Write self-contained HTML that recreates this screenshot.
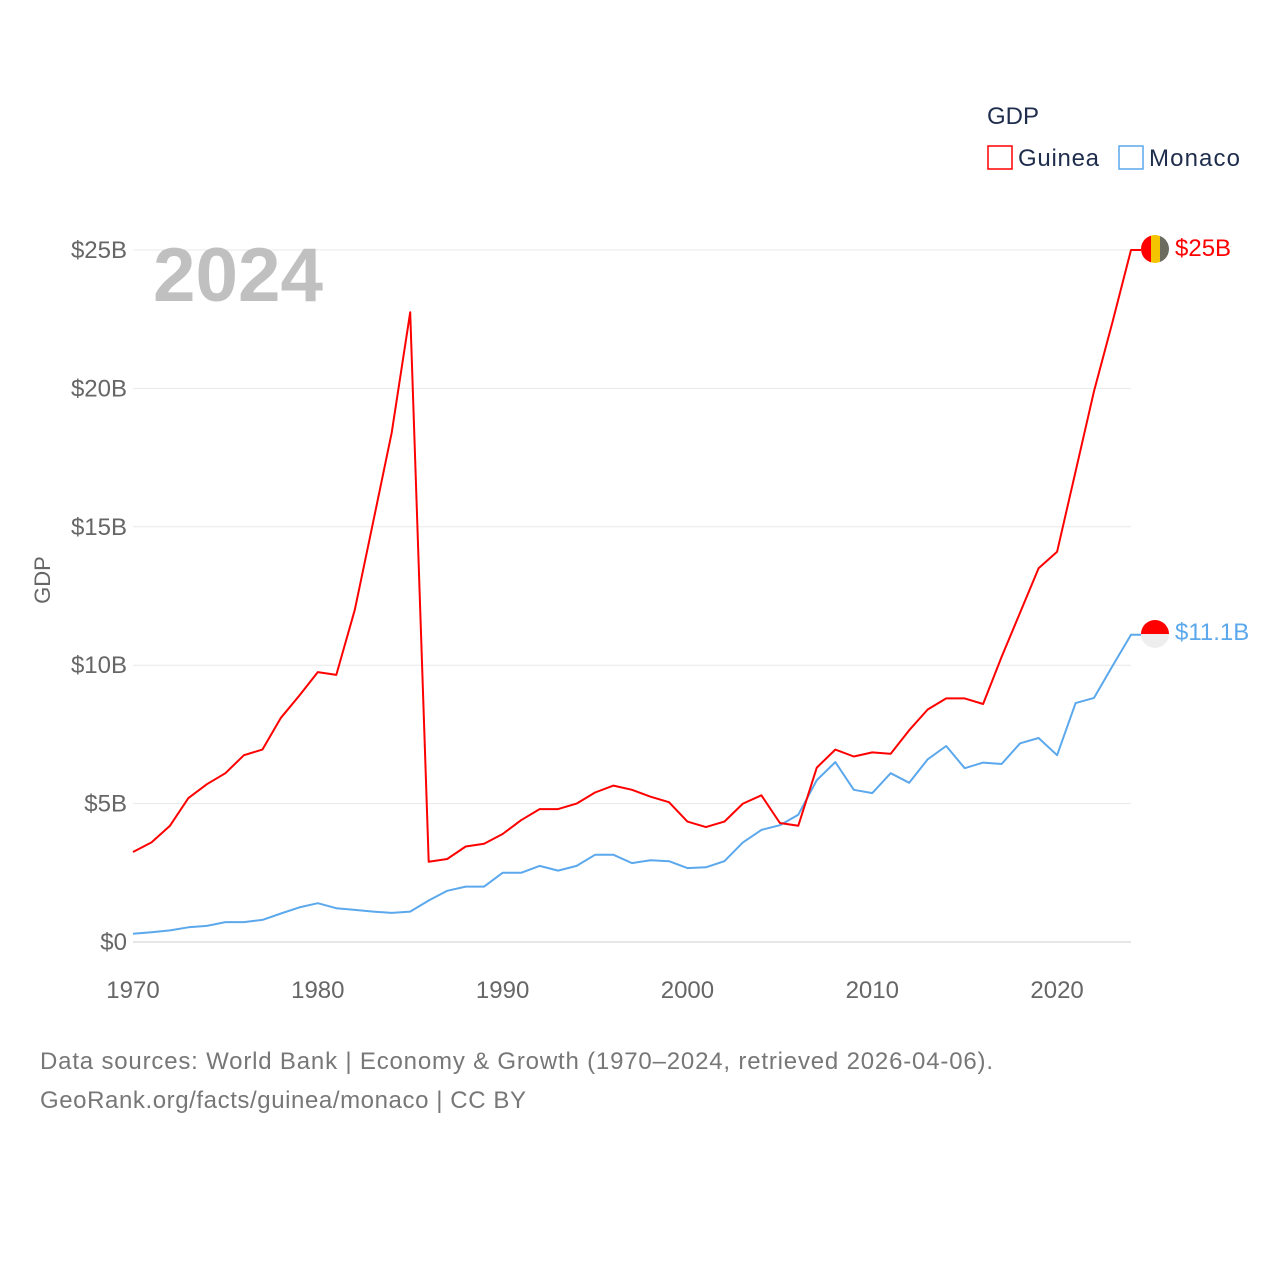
<!DOCTYPE html>
<html><head><meta charset="utf-8">
<style>
body{margin:0;background:#fff;font-family:"Liberation Sans",sans-serif;}
svg text{font-family:"Liberation Sans",sans-serif;}
</style></head>
<body>
<svg width="1280" height="1280" viewBox="0 0 1280 1280">
<g id="grid"></g>
<g id="yticks"></g>
<g id="xticks"></g>
<text x="153" y="301" font-size="76" font-weight="bold" fill="#c0c0c0" textLength="170" lengthAdjust="spacingAndGlyphs">2024</text>
<text transform="translate(50,580) rotate(-90)" font-size="22" fill="#666" text-anchor="middle">GDP</text>
<g id="series"></g>
<g>
<text x="987" y="124" font-size="24" fill="#1f2d4d">GDP</text>
<g><rect x="988" y="146" width="24" height="23" fill="none" stroke="#ff0000" stroke-width="1.5"/><text x="1018" y="166" font-size="24" fill="#1f2d4d" textLength="81">Guinea</text></g>
<g><rect x="1119" y="146" width="24" height="23" fill="none" stroke="#5ba8ec" stroke-width="1.5"/><text x="1149" y="166" font-size="24" fill="#1f2d4d" textLength="91">Monaco</text></g>
</g>
<g>
<clipPath id="cg"><circle cx="1155" cy="249" r="14"/></clipPath>
<g clip-path="url(#cg)"><rect x="1141" y="235" width="10" height="28" fill="#ff0000"/><rect x="1151" y="235" width="9" height="28" fill="#f5c400"/><rect x="1160" y="235" width="10" height="28" fill="#6b6b60"/></g>
</g>
<g>
<clipPath id="cm"><circle cx="1155" cy="634" r="14"/></clipPath>
<g clip-path="url(#cm)"><rect x="1141" y="620" width="28" height="14" fill="#ff0000"/><rect x="1141" y="634" width="28" height="14" fill="#eeeeee"/></g>
</g>
<text x="1175" y="256" font-size="24" fill="#ff0000">$25B</text>
<text x="1175" y="640" font-size="24" fill="#5ba8ec">$11.1B</text>
<text x="40" y="1069" font-size="24" fill="#777" textLength="953">Data sources: World Bank | Economy &amp; Growth (1970–2024, retrieved 2026-04-06).</text>
<text x="40" y="1108" font-size="24" fill="#777" textLength="486">GeoRank.org/facts/guinea/monaco | CC BY</text>
</svg>
<script>
const years=[];for(let y=1970;y<=2024;y++)years.push(y);
const guinea=[3.25,3.6,4.2,5.2,5.7,6.1,6.75,6.95,8.1,8.9,9.75,9.65,12.0,15.2,18.4,22.75,2.9,3.0,3.45,3.55,3.9,4.4,4.8,4.8,5.0,5.4,5.65,5.5,5.25,5.05,4.35,4.15,4.35,5.0,5.3,4.3,4.2,6.3,6.95,6.7,6.85,6.8,7.65,8.4,8.8,8.8,8.6,10.3,11.9,13.5,14.1,17.0,19.9,22.4,25.0];
const monaco=[0.3,0.35,0.42,0.53,0.58,0.72,0.72,0.8,1.03,1.25,1.4,1.22,1.16,1.1,1.05,1.1,1.5,1.85,2.0,2.0,2.5,2.5,2.75,2.58,2.75,3.15,3.15,2.85,2.95,2.92,2.67,2.7,2.92,3.6,4.05,4.22,4.6,5.85,6.5,5.5,5.38,6.1,5.75,6.6,7.08,6.28,6.48,6.43,7.18,7.37,6.75,8.63,8.82,9.97,11.1];
const yTicks=[0,5,10,15,20,25];
const yTickLabels=["$0","$5B","$10B","$15B","$20B","$25B"];
const xTicks=[1970,1980,1990,2000,2010,2020];
const X=y=>133+(y-1970)*(1131-133)/54;
const Y=v=>942-v*(942-250)/25;
const NS="http://www.w3.org/2000/svg";
const grid=document.getElementById('grid'),yt=document.getElementById('yticks'),xt=document.getElementById('xticks'),ser=document.getElementById('series');
yTicks.forEach((t,i)=>{
 const l=document.createElementNS(NS,'line');
 l.setAttribute('x1',133);l.setAttribute('x2',1131);l.setAttribute('y1',Y(t));l.setAttribute('y2',Y(t));
 l.setAttribute('stroke',t===0?'#ccc':'#e8e8e8');l.setAttribute('stroke-width',1);
 
 
 grid.appendChild(l);
 const tx=document.createElementNS(NS,'text');
 tx.setAttribute('x',127);tx.setAttribute('y',Y(t)+8);tx.setAttribute('text-anchor','end');tx.setAttribute('font-size','24');tx.setAttribute('fill','#666');
 tx.textContent=yTickLabels[i];
 
 
 yt.appendChild(tx);
});
xTicks.forEach(t=>{
 const tx=document.createElementNS(NS,'text');
 tx.setAttribute('x',X(t));tx.setAttribute('y',998);tx.setAttribute('text-anchor','middle');tx.setAttribute('font-size','24');tx.setAttribute('fill','#666');
 tx.textContent=t;
 
 
 xt.appendChild(tx);
});
function line(vals,color,name){
 const last=vals[vals.length-1];
 const p=document.createElementNS(NS,'path');
 p.setAttribute('d',vals.map((v,i)=>(i?'L':'M')+X(years[i]).toFixed(1)+','+Y(v).toFixed(1)).join('')+'L1141,'+Y(last).toFixed(1));
 p.setAttribute('fill','none');p.setAttribute('stroke',color);p.setAttribute('stroke-width',2);p.setAttribute('stroke-linejoin','round');
 
 
 ser.appendChild(p);
}
line(monaco,'#5ba8ec','monaco-line');
line(guinea,'#ff0000','guinea-line');
</script>
</body></html>
